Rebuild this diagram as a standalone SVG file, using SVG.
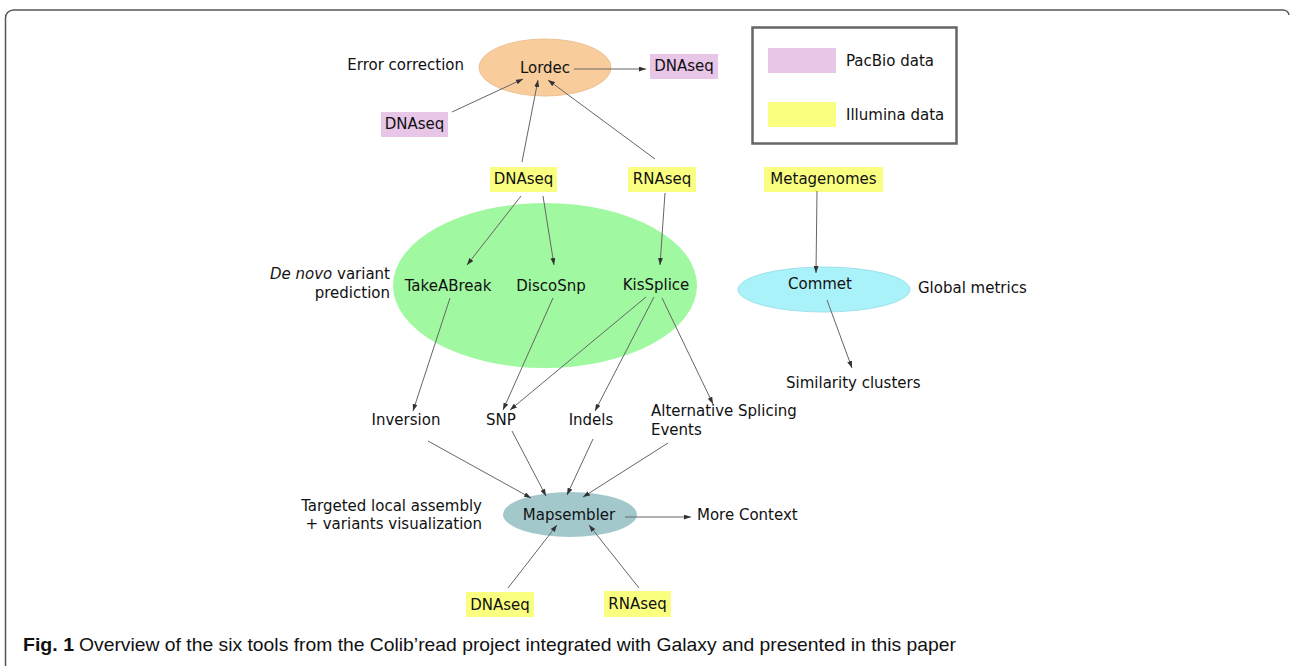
<svg xmlns="http://www.w3.org/2000/svg" width="1290" height="666" viewBox="0 0 1290 666">
<style>
text{font-family:"DejaVu Sans",Verdana,sans-serif;font-size:15px;fill:#111;dominant-baseline:central}
.m{text-anchor:middle}
.e{text-anchor:end}
.pink{fill:#e8c6e8}
.yel{fill:#fbff80}
.conn line{stroke:#666;stroke-width:1;marker-end:url(#ah)}
.cap{font-family:"Liberation Sans",Arial,sans-serif;font-size:19px;dominant-baseline:auto}
</style>
<defs>
<marker id="ah" markerUnits="userSpaceOnUse" markerWidth="7" markerHeight="5" refX="7" refY="2.5" orient="auto">
<path d="M0,0 L7,2.5 L0,5 z" fill="#333"/>
</marker>
</defs>
<rect width="1290" height="666" fill="#fff"/>
<path d="M5.5,666 V18 A8,8 0 0 1 13.5,10 H1283 A6,6 0 0 1 1289,15" fill="none" stroke="#555" stroke-width="1.5"/>

<g id="legend">
<rect x="752.5" y="27.5" width="204" height="116" fill="#fff" stroke="#666" stroke-width="2.5"/>
<rect class="pink" x="768" y="48" width="68" height="25"/>
<text x="846" y="61">PacBio data</text>
<rect class="yel" x="768" y="102" width="68" height="25"/>
<text x="846" y="115">Illumina data</text>
</g>

<g id="lordec">
<ellipse cx="545" cy="67.5" rx="66" ry="28.5" fill="#f9cc9c" stroke="#edc195" stroke-width="1"/>
<text class="m" x="545" y="68">Lordec</text>
</g>
<text id="err" class="e" x="464" y="65">Error correction</text>
<g id="pb-out"><rect class="pink" x="650" y="54" width="68" height="25"/><text class="m" x="684" y="66">DNAseq</text></g>
<g id="pb-in"><rect class="pink" x="381" y="112" width="67" height="25"/><text class="m" x="414.5" y="124">DNAseq</text></g>
<g id="dna-top"><rect class="yel" x="490" y="167" width="67" height="25"/><text class="m" x="523.5" y="179">DNAseq</text></g>
<g id="rna-top"><rect class="yel" x="628" y="167" width="68" height="25"/><text class="m" x="662" y="179">RNAseq</text></g>
<g id="meta"><rect class="yel" x="764" y="167" width="119" height="25"/><text class="m" x="823.5" y="179">Metagenomes</text></g>

<g id="denovo">
<ellipse cx="545" cy="285.5" rx="152" ry="82.5" fill="#a0f8a0"/>
<text class="m" x="448" y="286">TakeABreak</text>
<text class="m" x="551" y="286">DiscoSnp</text>
<text class="m" x="656" y="285">KisSplice</text>
</g>
<text class="e" x="390" y="274"><tspan font-style="italic">De novo</tspan> variant</text>
<text class="e" x="390" y="293">prediction</text>

<g id="commet">
<ellipse cx="824" cy="289.5" rx="86" ry="22.5" fill="#aaf2fa" stroke="#9fe2ea" stroke-width="1"/>
<text class="m" x="820" y="284">Commet</text>
</g>
<text x="918" y="288">Global metrics</text>
<text id="sim" x="786" y="383">Similarity clusters</text>

<text id="inv" class="m" x="406" y="420">Inversion</text>
<text id="snp" class="m" x="501" y="420">SNP</text>
<text id="ind" class="m" x="591" y="420">Indels</text>
<g id="ase"><text x="651" y="411">Alternative Splicing</text><text x="651" y="430">Events</text></g>

<g id="mapsembler">
<ellipse cx="570" cy="514.5" rx="67" ry="22.5" fill="#a2c8cc"/>
<text class="m" x="569" y="515">Mapsembler</text>
</g>
<text class="e" x="482" y="506">Targeted local assembly</text>
<text class="e" x="482" y="524">+ variants visualization</text>
<text id="more" x="697" y="515">More Context</text>
<g id="dna-bot"><rect class="yel" x="466" y="592" width="68" height="25"/><text class="m" x="500" y="605">DNAseq</text></g>
<g id="rna-bot"><rect class="yel" x="604" y="591" width="67" height="26"/><text class="m" x="637.5" y="604">RNAseq</text></g>

<g class="conn" id="connectors">
<line x1="574" y1="69" x2="646" y2="69"/>
<line x1="452" y1="112" x2="523" y2="79"/>
<line x1="522" y1="162" x2="538" y2="80"/>
<line x1="655" y1="159" x2="548" y2="80"/>
<line x1="521" y1="196" x2="467" y2="265"/>
<line x1="543" y1="196" x2="554" y2="265"/>
<line x1="665" y1="193" x2="660" y2="265"/>
<line x1="817" y1="191" x2="816" y2="273"/>
<line x1="827" y1="300" x2="852" y2="368"/>
<line x1="450" y1="298" x2="413" y2="411"/>
<line x1="553" y1="298" x2="503" y2="410"/>
<line x1="646" y1="297" x2="510" y2="410"/>
<line x1="654" y1="297" x2="595" y2="411"/>
<line x1="662" y1="298" x2="713" y2="404"/>
<line x1="428" y1="441" x2="531" y2="498"/>
<line x1="512" y1="431" x2="546" y2="496"/>
<line x1="593" y1="439" x2="567" y2="495"/>
<line x1="668" y1="443" x2="583" y2="497"/>
<line x1="625" y1="517" x2="691" y2="517"/>
<line x1="508" y1="588" x2="557" y2="525"/>
<line x1="639" y1="588" x2="589" y2="525"/>
</g>

<text class="cap" x="23" y="651" textLength="51" lengthAdjust="spacingAndGlyphs" font-weight="bold">Fig. 1</text>
<text class="cap" x="79" y="651" textLength="877" lengthAdjust="spacingAndGlyphs">Overview of the six tools from the Colib’read project integrated with Galaxy and presented in this paper</text>
</svg>
